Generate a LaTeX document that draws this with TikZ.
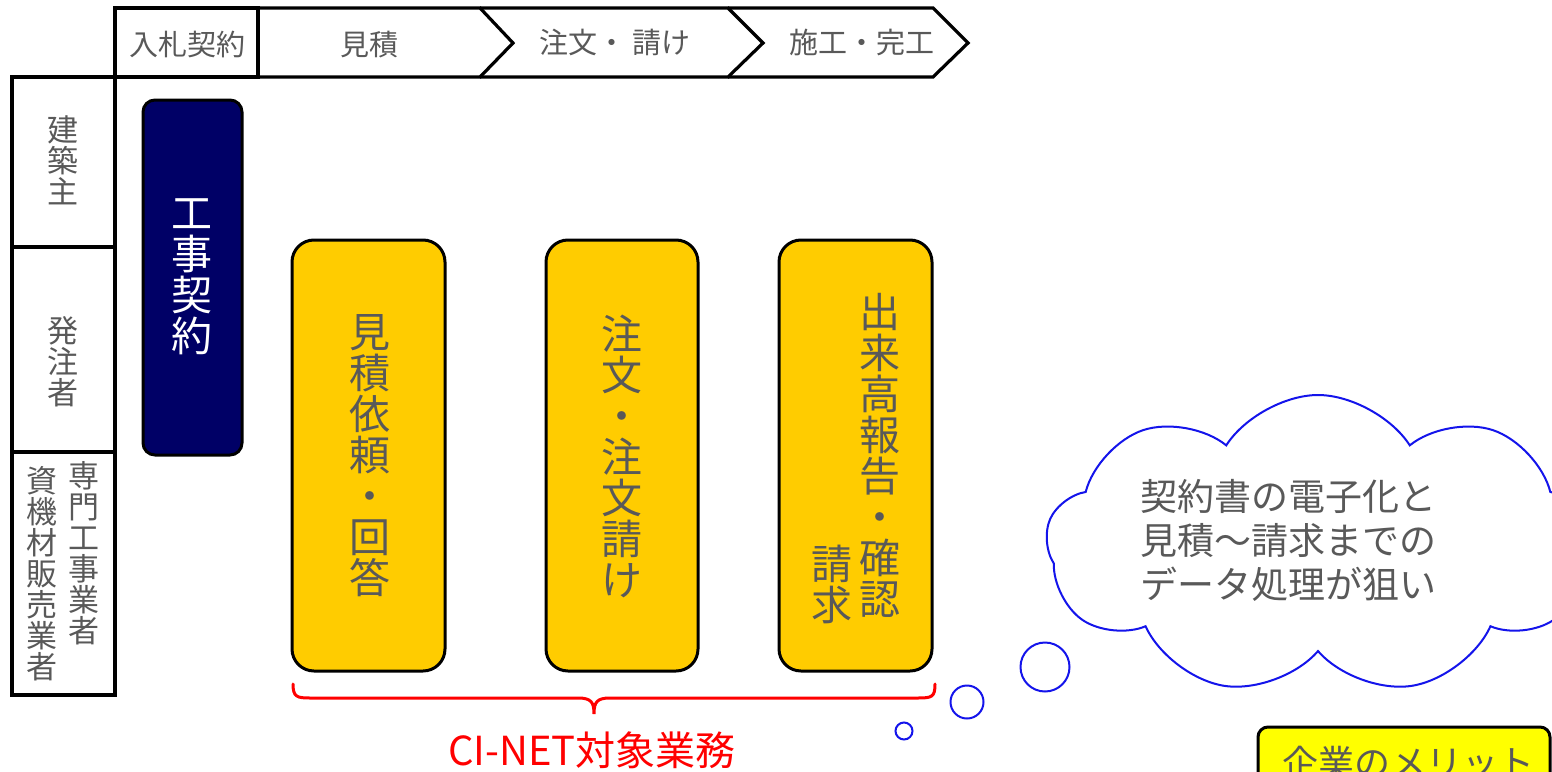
\documentclass[tikz,border=0pt]{standalone}
\usepackage{fontspec}
\setmainfont{Noto Sans CJK JP}
\usetikzlibrary{shapes.symbols}
\definecolor{txtgray}{RGB}{89,89,89}
\definecolor{navy}{RGB}{0,0,102}
\definecolor{gold}{RGB}{255,204,0}
\definecolor{cloudblue}{RGB}{20,20,235}
\definecolor{brightyellow}{RGB}{255,255,0}
\tikzset{
  frame/.style={draw=black, line width=1.6pt, line join=miter},
  hdrtext/.style={text=txtgray, font=\fontsize{14.5}{14.5}\selectfont, inner sep=0pt},
  sidetext/.style={text=txtgray, font=\fontsize{15.5}{15.5}\selectfont, align=center, inner sep=0pt},
  bigtext/.style={text=txtgray, font=\fontsize{20.5}{20.5}\selectfont, align=center, inner sep=0pt},
  goldbox/.style={draw=black, line width=1.5pt, fill=gold, rounded corners=11pt, rectangle, inner sep=0pt},
  bubble/.style={circle, draw=cloudblue, line width=1pt, inner sep=0pt},
}
\begin{document}
\begin{tikzpicture}[x=0.5pt, y=-0.5pt]
\useasboundingbox (0,0) rectangle (1552,771);
\fill[white] (0,0) rectangle (1552,771);

% ---- header ----
\draw[frame] (115,8) rectangle (258,77);
\draw[frame] (258,8) -- (480,8) -- (513,43) -- (480,77) -- (258,77);
\draw[frame] (480,8) -- (728,8) -- (763,43) -- (728,77) -- (480,77);
\draw[frame] (728,8) -- (933,8) -- (968,43) -- (933,77) -- (728,77);
\node[hdrtext] (h1) at (187,44) {入札契約};
\node[hdrtext] (h2) at (369,45) {見積};
\node[hdrtext] (h3) at (615,42) {注文・ 請け};
\node[hdrtext] (h4) at (862,42) {施工・完工};

% ---- left column ----
\draw[frame] (115,77) -- (115,695) -- (12,695) -- (12,77) -- cycle;
\draw[frame] (12,247) -- (115,247);
\draw[frame] (12,452) -- (115,452);
\node[sidetext] (s1) at (63,160) {建\\築\\主};
\node[sidetext] (s2) at (63,362) {発\\注\\者};
\node[sidetext] (s3) at (84,553) {専\\門\\工\\事\\業\\者};
\node[sidetext] (s4) at (42,574) {資\\機\\材\\販\\売\\業\\者};

% ---- navy box ----
\node[rectangle, draw=black, line width=1.5pt, fill=navy, rounded corners=6pt,
      minimum width=49.5pt, minimum height=177.5pt, inner sep=0pt] (kk) at (192.5,277.5) {};
\node[bigtext, text=white] (kkt) at (192,277) {工\\事\\契\\約};

% ---- gold boxes ----
\node[goldbox, minimum width=76.5pt, minimum height=215.5pt] (b1) at (368.5,455.5) {};
\node[goldbox, minimum width=76pt, minimum height=215.5pt] (b2) at (622,455.5) {};
\node[goldbox, minimum width=76.5pt, minimum height=215.5pt] (b3) at (855.5,455.5) {};
\node[bigtext] (t1) at (370,456) {見\\積\\依\\頼\\・\\回\\答};
\node[bigtext] (t2) at (622,456) {注\\文\\・\\注\\文\\請\\け};
\node[bigtext] (t3) at (880,455) {出\\来\\高\\報\\告\\・\\確\\認};
\node[bigtext] (t4) at (832,584) {請\\求};

% ---- brace ----
\coordinate (bl) at (293,684);
\coordinate (br) at (935,684);
\coordinate (bt) at (594,714);
\draw[red, line width=1.5pt, line cap=round]
  (bl) .. controls (293,697) and (297,698) .. (310,698) -- (578,698)
  .. controls (591,698) and (594,702) .. (bt)
  .. controls (594,702) and (597,698) .. (610,698) -- (918,698)
  .. controls (932,698) and (935,697) .. (br);
\node[text=red, font=\fontsize{20}{20}\selectfont, inner sep=0pt] (ci) at (592,750) {CI-NET対象業務};

% ---- cloud ----
\node[cloud, draw=cloudblue, line width=1pt, cloud puffs=9, cloud puff arc=115, aspect=1.95,
      minimum width=272pt, minimum height=150pt, inner sep=0pt] (cl) at (1318,545) {};
\node[text=txtgray, font=\fontsize{18.5}{22}\selectfont, align=center, inner sep=0pt] (clt) at (1288,540)
  {契約書の電子化と\\見積～請求までの\\データ処理が狙い};
\node[bubble, minimum size=24.5pt] (c1) at (1045,667) {};
\node[bubble, minimum size=16.5pt] (c2) at (967,702) {};
\node[bubble, minimum size=8.5pt] (c3) at (904,731) {};

% ---- merit box ----
\node[rectangle, draw=black, line width=1.5pt, fill=brightyellow, rounded corners=5pt,
      minimum width=146pt, minimum height=40pt, inner sep=0pt] (mb) at (1404,767) {};
\node[text=txtgray, font=\fontsize{18}{18}\selectfont, inner sep=0pt] (mt) at (1408,763) {企業のメリット};
\end{tikzpicture}
\end{document}
